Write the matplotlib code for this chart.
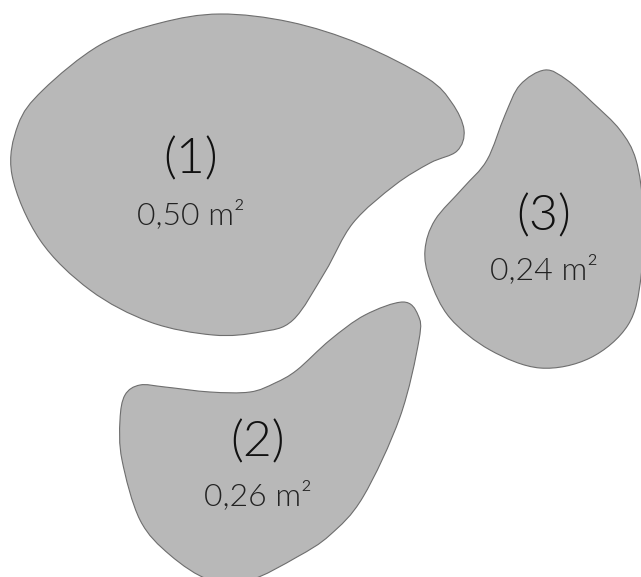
import matplotlib
matplotlib.use("Agg")
import matplotlib.pyplot as plt
import numpy as np
from matplotlib.path import Path
from matplotlib.patches import PathPatch

# region names and areas
names = ["(1)", "(2)", "(3)"]
areas = ["0,50 m²", "0,26 m²", "0,24 m²"]

# outline points of each region (picture pixels, clockwise)
outline_1 = [(220, 14), (290, 22), (360, 44), (427, 78), (452, 103),
             (464, 130), (457, 151), (430, 163), (395, 185), (353, 223),
             (325, 272), (293, 320), (260, 332), (213, 335), (150, 322),
             (90, 290), (40, 240), (12, 175), (18, 125), (43, 90), (100, 45),
             (160, 23)]
outline_2 = [(403, 302), (418, 315), (419, 340), (400, 417), (363, 497),
             (330, 535), (297, 557), (250, 580), (210, 580), (170, 555),
             (140, 520), (122, 460), (120, 420), (125, 395), (140, 385),
             (165, 387), (210, 392), (250, 392), (275, 383), (297, 370),
             (330, 340), (365, 315)]
outline_3 = [(545, 70), (567, 80), (593, 103), (620, 130), (636, 160),
             (643, 210), (641, 277), (628, 325), (590, 358), (540, 368),
             (490, 350), (450, 318), (430, 280), (425, 250), (435, 220),
             (463, 188), (487, 160), (505, 115), (520, 85)]
label_pos = [(191, 160, 215), (258, 443, 496), (544, 217, 270)]


def smooth_path(pts):
    p = np.array(pts, dtype=float)
    n = len(p)
    verts = [p[0]]
    codes = [Path.MOVETO]
    for i in range(n):
        p0, p1, p2, p3 = p[i - 1], p[i], p[(i + 1) % n], p[(i + 2) % n]
        c1 = p1 + (p2 - p0) / 6
        c2 = p2 - (p3 - p1) / 6
        verts += [c1, c2, p2]
        codes += [Path.CURVE4] * 3
    return Path(verts, codes)


fig = plt.figure(figsize=(6.41, 5.77), dpi=100)
ax = fig.add_axes([0, 0, 1, 1])
ax.set_xlim(0, 641)
ax.set_ylim(577, 0)
ax.axis("off")

for outline in (outline_1, outline_2, outline_3):
    ax.add_patch(PathPatch(smooth_path(outline), facecolor="#b8b8b8",
                           edgecolor="#6e6e6e", linewidth=0.8))

for name, area, (x, y1, y2) in zip(names, areas, label_pos):
    ax.text(x, y1, name, ha="center", va="center", fontsize=36,
            family="Lato", fontweight=300, color="#111111")
    ax.text(x, y2, area, ha="center", va="center", fontsize=23,
            family="Lato", fontweight=300, color="#222222")

plt.savefig("out.png", dpi=100)
